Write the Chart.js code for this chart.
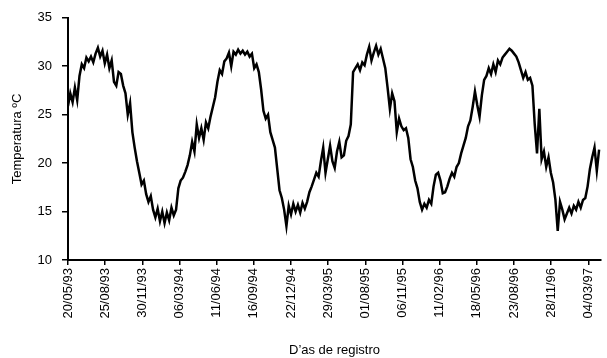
<!DOCTYPE html>
<html>
<head>
<meta charset="utf-8">
<script src="https://cdn.jsdelivr.net/npm/chart.js@4/dist/chart.umd.min.js"></script>
<style>
  html, body { margin: 0; padding: 0; background: #fff; }
  canvas { display: block; }
</style>
</head>
<body>
<canvas id="chart" width="607" height="358"></canvas>
<script>
// Daily water temperature record, one reading kept every SAMPLE_DAYS records
const SAMPLE_DAYS = 6;
const RECORDS_PER_TICK = 97;
const TOTAL_RECORDS = 1391;

const tickLabels = [
  '20/05/93', '25/08/93', '30/11/93', '06/03/94', '11/06/94',
  '16/09/94', '22/12/94', '29/03/95', '01/08/95', '06/11/95',
  '11/02/96', '18/05/96', '23/08/96', '28/11/96', '04/03/97'
];

const temperature = [
  25.9, 27.2, 26.3, 27.8, 26.5,
  29.0, 30.2, 29.8, 30.9, 30.5,
  31.0, 30.4, 31.3, 31.9, 31.0,
  31.6, 30.3, 31.2, 29.8, 30.6,
  28.4, 28.0, 29.4, 29.2, 28.0,
  27.2, 25.0, 26.2, 23.2, 21.6,
  20.2, 19.0, 17.8, 18.2, 16.8,
  16.0, 16.6, 15.2, 14.4, 15.3,
  14.0, 15.0, 13.8, 14.9, 14.1,
  15.4, 14.6, 15.2, 17.4, 18.2,
  18.5, 19.1, 19.8, 20.8, 22.2,
  21.2, 24.0, 22.6, 23.6, 22.4,
  24.2, 23.6, 24.8, 25.8, 26.8,
  28.4, 29.6, 29.2, 30.5, 30.8,
  31.4, 30.0, 31.5, 31.2, 31.7,
  31.3, 31.6, 31.2, 31.5, 31.0,
  31.3, 29.8, 30.2, 29.4, 27.6,
  25.4, 24.6, 25.0, 23.2, 22.4,
  21.6, 19.4, 17.2, 16.4, 15.2,
  13.5, 15.6, 14.7, 15.8, 15.0,
  15.7, 14.9, 15.9, 15.3, 16.0,
  17.0, 17.6, 18.3, 19.0, 18.6,
  20.2, 21.6, 19.0, 20.4, 21.8,
  20.2, 19.5, 21.2, 22.2, 20.6,
  20.8, 22.3, 22.8, 24.0, 29.4,
  29.8, 30.2, 29.6, 30.4, 30.1,
  31.2, 32.0, 30.6, 31.4, 32.1,
  31.2, 31.8, 30.8, 29.8, 27.8,
  25.6, 27.2, 26.4, 23.2, 24.6,
  23.8, 23.4, 23.6, 22.6, 20.4,
  19.6, 18.2, 17.4, 16.0, 15.2,
  15.8, 15.4, 16.2, 15.8, 17.6,
  18.8, 19.0, 18.2, 16.9, 17.0,
  17.6, 18.4, 19.0, 18.6, 19.6,
  20.0, 21.0, 21.8, 22.6, 23.8,
  24.4, 25.8, 27.4, 26.0, 24.8,
  27.0, 28.6, 29.0, 29.8, 29.2,
  30.2, 29.4, 30.6, 30.2, 30.9,
  31.2, 31.5, 31.8, 31.6, 31.3,
  31.0, 30.4, 29.6, 28.8, 29.4,
  28.6, 28.8, 28.0, 24.0, 21.0,
  25.6, 20.4, 21.2, 19.6, 20.6,
  19.0, 18.0, 16.2, 13.0, 16.0,
  15.2, 14.2, 14.8, 15.4, 14.8,
  15.6, 15.2, 16.0, 15.4, 16.2,
  16.4, 17.6, 19.4, 20.6, 21.6,
  19.2, 21.4
];

const points = temperature.map((t, i) => ({ x: i * SAMPLE_DAYS, y: t }));

const FONT = { family: "'Liberation Sans', Arial, sans-serif", size: 13 };

new Chart(document.getElementById('chart'), {
  type: 'line',
  data: {
    datasets: [{
      data: points,
      borderColor: '#000',
      borderWidth: 2.5,
      pointRadius: 0,
      tension: 0,
      fill: false
    }]
  },
  options: {
    responsive: false,
    animation: false,
    devicePixelRatio: 1,
    layout: { padding: { top: 17, right: 1, left: 0, bottom: 0 } },
    plugins: { legend: { display: false }, tooltip: { enabled: false } },
    scales: {
      x: {
        type: 'linear',
        min: 0,
        max: TOTAL_RECORDS,
        afterBuildTicks: (scale) => {
          scale.ticks = tickLabels.map((_, k) => ({ value: k * RECORDS_PER_TICK }));
        },
        afterFit: (scale) => { scale.height = 98; },
        ticks: {
          autoSkip: false,
          maxRotation: 90,
          minRotation: 90,
          padding: 3,
          color: '#000',
          font: FONT,
          callback: (value, index) => tickLabels[index]
        },
        grid: { drawOnChartArea: false, drawTicks: true, tickLength: 5, color: '#000', lineWidth: 1.5 },
        border: { display: true, color: '#000', width: 2 },
        title: { display: true, text: 'D’as de registro', color: '#000', font: FONT, padding: { top: 0, bottom: 0 } }
      },
      y: {
        min: 10,
        max: 35,
        afterFit: (scale) => { scale.width = 68; },
        ticks: { stepSize: 5, padding: 10, color: '#000', font: FONT },
        grid: { drawOnChartArea: false, drawTicks: true, tickLength: 6, color: '#000', lineWidth: 1.5 },
        border: { display: true, color: '#000', width: 2 },
        title: { display: true, text: 'Temperatura ºC', color: '#000', font: FONT, padding: { top: 10, bottom: 0 } }
      }
    }
  }
});
</script>
</body>
</html>
